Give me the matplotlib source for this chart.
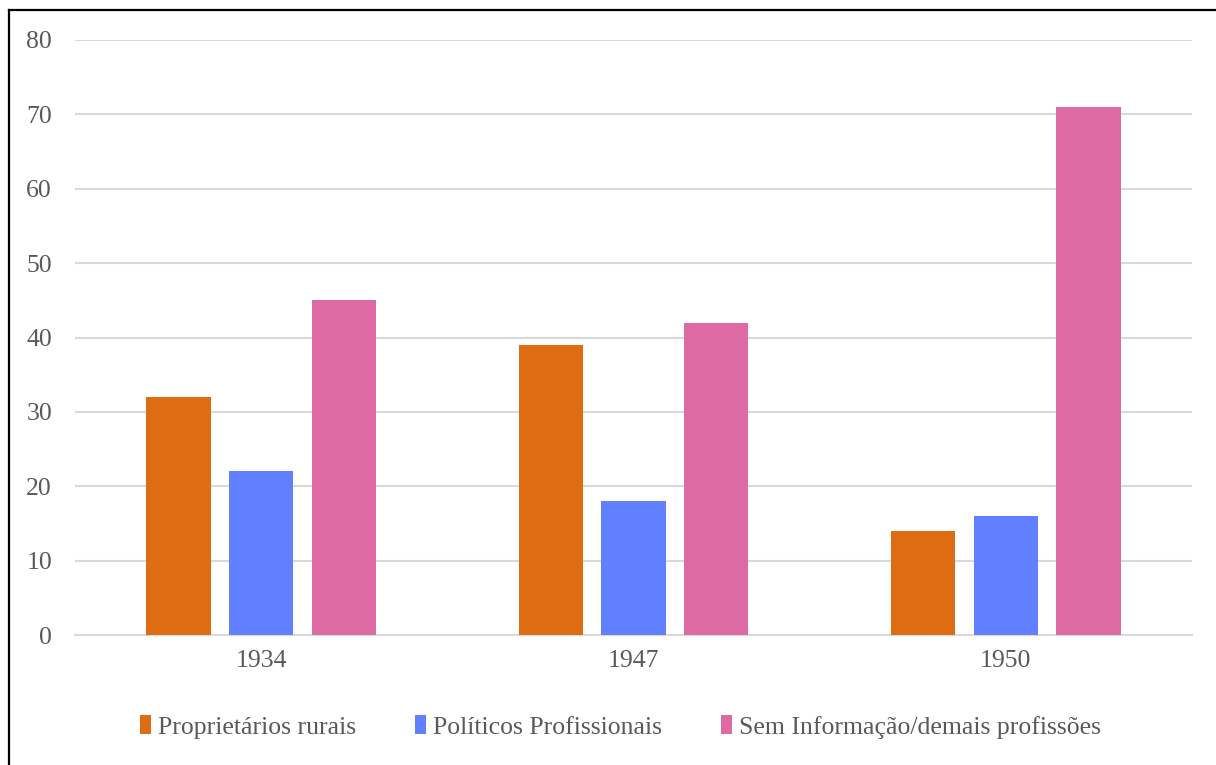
import matplotlib
matplotlib.use("Agg")
import matplotlib.pyplot as plt
from matplotlib.lines import Line2D
from matplotlib.patches import Patch
import numpy as np

years = ["1934", "1947", "1950"]
series_names = ["Proprietários rurais", "Políticos Profissionais",
                "Sem Informação/demais profissões"]
proprietarios = [32, 39, 14]
politicos = [22, 18, 16]
sem_info = [45, 42, 71]
y_ticks = [0, 10, 20, 30, 40, 50, 60, 70, 80]

colors = ["#DE6C12", "#6080FF", "#DE6AA3"]
text_color = "#595959"
grid_color = "#D9D9D9"

plt.rcParams["font.family"] = ["Liberation Serif", "DejaVu Serif"]
fs = 18.5

fig = plt.figure(figsize=(12.16, 7.65), dpi=100)
ax = fig.add_axes([75 / 1216, 1 - 635 / 765, (1192 - 75) / 1216, (635 - 40) / 765])

x = np.arange(len(years))
width = 0.172
step = 0.222
for i, (vals, c) in enumerate(zip([proprietarios, politicos, sem_info], colors)):
    ax.bar(x + (i - 1) * step, vals, width=width, color=c, zorder=3)

ax.set_xlim(-0.5, 2.5)
ax.set_ylim(0, 80)
ax.set_yticks(y_ticks)
ax.set_xticks(x)
ax.set_xticklabels(years)
ax.yaxis.grid(True, color=grid_color, linewidth=1.5, zorder=0)
ax.set_axisbelow(True)
for s in ["top", "right", "left"]:
    ax.spines[s].set_visible(False)
ax.spines["bottom"].set_color(grid_color)
ax.spines["bottom"].set_linewidth(1.5)
ax.tick_params(axis="both", length=0, colors=text_color, labelsize=fs)
ax.tick_params(axis="y", pad=16.5)
ax.tick_params(axis="x", pad=11)

handles = [Patch(facecolor=c, edgecolor="none") for c in colors]
fig.legend(handles, series_names, loc="center", bbox_to_anchor=(0.51, 1 - 727 / 765),
           ncol=3, frameon=False, fontsize=fs, labelcolor=text_color,
           handlelength=0.45, handleheight=0.75, handletextpad=0.25, columnspacing=2.3)

# outer frame
fig.add_artist(Line2D([9 / 1216, 9 / 1216], [0, 1 - 10 / 765], transform=fig.transFigure,
                      color="black", linewidth=1.6))
fig.add_artist(Line2D([9 / 1216, 1], [1 - 10 / 765, 1 - 10 / 765], transform=fig.transFigure,
                      color="black", linewidth=1.6))

fig.savefig("out.png", dpi=100)
